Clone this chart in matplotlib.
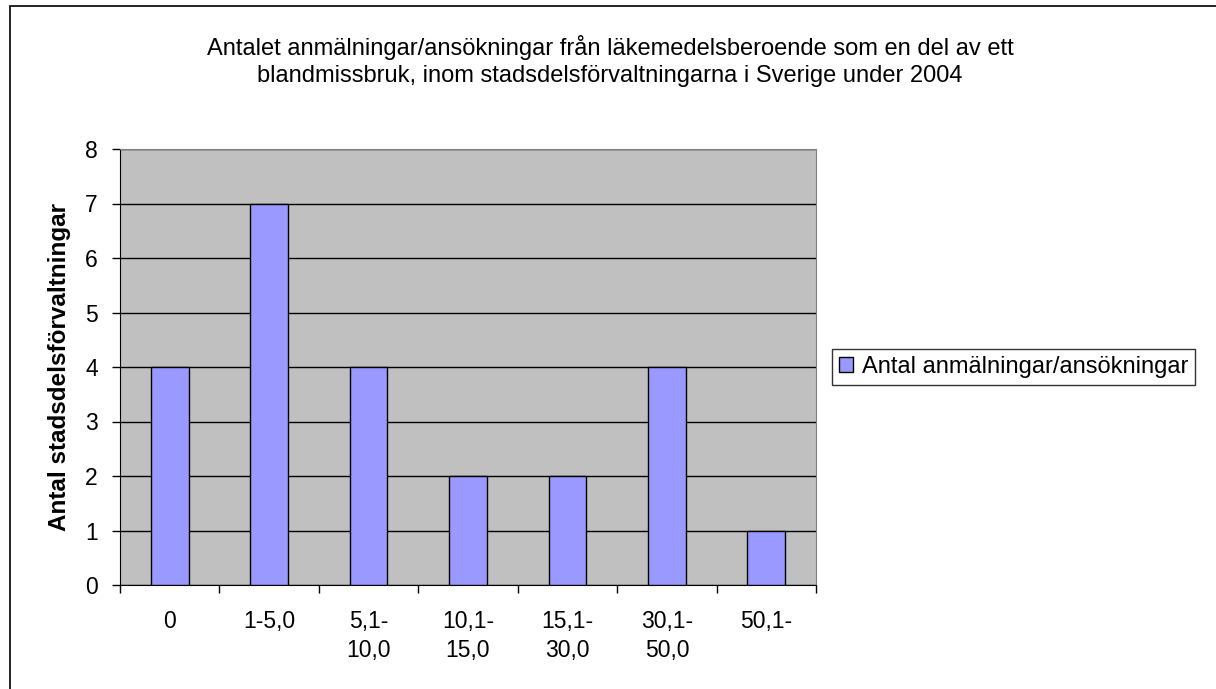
import matplotlib
matplotlib.use("Agg")
import matplotlib.pyplot as plt
from matplotlib.patches import Rectangle

plt.rcParams['font.family'] = ['Liberation Sans', 'DejaVu Sans']

categories = ['0', '1-5,0', '5,1-\n10,0', '10,1-\n15,0', '15,1-\n30,0', '30,1-\n50,0', '50,1-']
values = [4, 7, 4, 2, 2, 4, 1]
series_name = 'Antal anmälningar/ansökningar'
title = ('Antalet anmälningar/ansökningar från läkemedelsberoende som en del av ett\n'
         'blandmissbruk, inom stadsdelsförvaltningarna i Sverige under 2004')
ylabel = 'Antal stadsdelsförvaltningar'

fig = plt.figure(figsize=(12.16, 6.89), dpi=100)
fig.patches.append(Rectangle((10 / 1216, -0.1), 1.2, 1 - 6 / 689 + 0.1,
                             transform=fig.transFigure, fill=False,
                             edgecolor='black', linewidth=1.2))

ax = fig.add_axes([120 / 1216, 1 - 585 / 689, 696 / 1216, 436 / 689])
ax.set_facecolor('#c0c0c0')
x = range(len(categories))
ax.bar(x, values, width=0.38, color='#9999ff', edgecolor='black', linewidth=1,
       label=series_name, zorder=3)

ax.set_xlim(-0.5, len(categories) - 0.5)
ax.set_ylim(0, 8)
ax.set_yticks(range(0, 9))
ax.yaxis.grid(True, color='black', linewidth=1, zorder=1)
ax.set_axisbelow(True)

# ticks sit between the categories, labels in the middle
ax.set_xticks([i - 0.5 for i in range(len(categories) + 1)])
ax.set_xticklabels([])
ax.set_xticks(list(x), minor=True)
ax.set_xticklabels(categories, minor=True, fontsize=16.5, linespacing=1.32,
                   va='top')
ax.tick_params(axis='x', which='minor', length=0, pad=18)
ax.tick_params(axis='x', which='major', length=6, width=1, direction='out')
ax.tick_params(axis='y', length=6, width=1, direction='out', labelsize=16.5, pad=10)

for side in ['top', 'right']:
    ax.spines[side].set_color('#808080')
ax.spines['left'].set_color('black')
ax.spines['bottom'].set_color('black')

ax.set_ylabel(ylabel, fontsize=17.5, fontweight='bold', labelpad=10)

fig.text(610 / 1216, 1 - 61 / 689, title, ha='center', va='center',
         fontsize=17, linespacing=1.25)

leg = ax.legend(loc='center left', bbox_to_anchor=(1.023, 0.5), fontsize=17,
                frameon=True, fancybox=False, edgecolor='black',
                handlelength=0.6, handleheight=0.6, handletextpad=0.35,
                borderpad=0.3, borderaxespad=0)
leg.get_frame().set_linewidth(1)

fig.savefig('out.png', dpi=100)
